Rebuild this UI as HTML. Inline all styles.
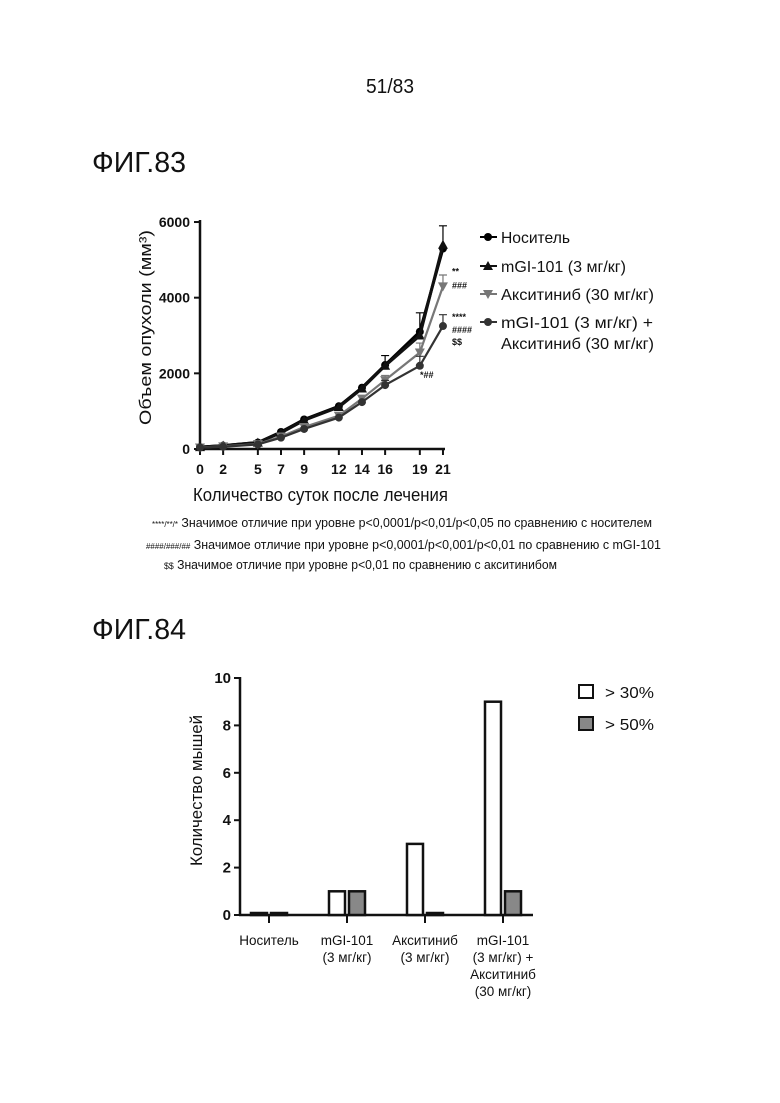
<!DOCTYPE html>
<html><head><meta charset="utf-8">
<style>
body{margin:0;background:#fff;width:780px;height:1103px;overflow:hidden}
svg{display:block}
text{font-family:"Liberation Sans Narrow","Liberation Sans",sans-serif;fill:#111}
</style></head>
<body>
<svg id="s" width="780" height="1103" xmlns="http://www.w3.org/2000/svg">
<text x="366" y="93" font-size="20" textLength="48" lengthAdjust="spacingAndGlyphs">51/83</text>
<text x="92" y="172" font-size="29" textLength="94" lengthAdjust="spacingAndGlyphs">ФИГ.83</text>
<text x="92" y="639" font-size="29" textLength="94" lengthAdjust="spacingAndGlyphs">ФИГ.84</text>
<text x="193" y="501" font-size="18" textLength="255" lengthAdjust="spacingAndGlyphs">Количество суток после лечения</text>
<text transform="translate(151,425) rotate(-90)" font-size="17" textLength="195" lengthAdjust="spacingAndGlyphs">Объем опухоли (мм³)</text>
<g font-size="12.5">
<text x="152" y="527" textLength="500" lengthAdjust="spacingAndGlyphs"><tspan font-size="8">****/**/*</tspan> Значимое отличие при уровне p&lt;0,0001/p&lt;0,01/p&lt;0,05 по сравнению с носителем</text>
<text x="146" y="549" textLength="515" lengthAdjust="spacingAndGlyphs"><tspan font-size="8">####/###/##</tspan> Значимое отличие при уровне p&lt;0,0001/p&lt;0,001/p&lt;0,01 по сравнению с mGI-101</text>
<text x="164" y="569" textLength="393" lengthAdjust="spacingAndGlyphs"><tspan font-size="9">$$</tspan> Значимое отличие при уровне p&lt;0,01 по сравнению с акситинибом</text>
</g>
<text transform="translate(202,866) rotate(-90)" font-size="17" textLength="151" lengthAdjust="spacingAndGlyphs">Количество мышей</text>
<g id="c1"></g><g id="c2"></g>
</svg>
<script>
const days=[0,2,5,7,9,12,14,16,19,21];
const vehicle=[50,90,170,450,780,1130,1620,2220,3100,5300];
const mgi=[50,90,170,430,760,1110,1600,2200,3000,5400];
const axit=[40,70,130,330,580,880,1330,1820,2550,4300];
const combo=[40,60,120,300,530,830,1240,1690,2200,3250];
const errs=[0,0,0,0,0,0,0,250,500,600];
const yTicks1=[0,2000,4000,6000];
const cats=["Носитель","mGI-101\n(3 мг/кг)","Акситиниб\n(3 мг/кг)","mGI-101\n(3 мг/кг) +\nАкситиниб\n(30 мг/кг)"];
const over30=[0,1,3,9];
const over50=[0,1,0,1];
const yTicks2=[0,2,4,6,8,10];
const NS="http://www.w3.org/2000/svg";
function mk(p,t,a){const e=document.createElementNS(NS,t);for(const k in a)e.setAttribute(k,a[k]);p.appendChild(e);return e;}
const c1=document.getElementById('c1');
const X=d=>200+d*11.57, Y=v=>449-v*0.03783;
let ax=mk(c1,'line',{x1:200,y1:220,x2:200,y2:449,stroke:'#111','stroke-width':2.5});

ax=mk(c1,'line',{x1:198,y1:449,x2:445,y2:449,stroke:'#111','stroke-width':2.5});

yTicks1.forEach(v=>{let l=mk(c1,'line',{x1:194,y1:Y(v),x2:200,y2:Y(v),stroke:'#111','stroke-width':2});

let t=mk(c1,'text',{x:190,y:Y(v)+5,'font-size':14,'font-weight':'bold','text-anchor':'end'});t.textContent=v;
});
days.forEach(d=>{let l=mk(c1,'line',{x1:X(d),y1:449,x2:X(d),y2:455,stroke:'#111','stroke-width':2});

let t=mk(c1,'text',{x:X(d),y:474,'font-size':14,'font-weight':'bold','text-anchor':'middle'});t.textContent=d;
});
const series=[[vehicle,'#000','circle','series-vehicle'],[mgi,'#111','tri','series-mgi101'],[axit,'#777','tri-down','series-axitinib'],[combo,'#333','circle','series-combo']];
function marker(g,x,y,col,shape){
 if(shape=='circle')return mk(g,'circle',{cx:x,cy:y,r:4,fill:col});
 if(shape=='tri')return mk(g,'polygon',{points:`${x},${y-5} ${x-5},${y+4} ${x+5},${y+4}`,fill:col});
 return mk(g,'polygon',{points:`${x},${y+5} ${x-5},${y-4} ${x+5},${y-4}`,fill:col});}
series.forEach(([vals,col,shape,name],si)=>{
 const g=mk(c1,'g',{});
 const p=mk(g,'polyline',{points:days.map((d,i)=>X(d)+','+Y(vals[i])).join(' '),fill:'none',stroke:col,'stroke-width':si<2?3:2.2});
 
 days.forEach((d,i)=>{ if(errs[i]&&si!=1){let e=mk(g,'path',{d:`M${X(d)},${Y(vals[i])}V${Y(vals[i]+errs[i]*(si==0?1:0.5))}m-4,0h8`,stroke:col,'stroke-width':1.2,fill:'none'});
  }
  const m=marker(g,X(d),Y(vals[i]),col,shape);});
});
[[452,Y(4300)-12,'**'],[452,Y(4300)+2,'###'],[452,Y(3250)-6,'****'],[452,Y(3250)+7,'####'],[452,Y(3250)+19,'$$'],[420,Y(2200)+12,'*##']].forEach(([x,y,s])=>{
 let t=mk(c1,'text',{x:x,y:y,'font-size':9,'font-weight':'bold'});t.textContent=s;});
const leg=[['Носитель','#000','circle',237,69],['mGI-101 (3 мг/кг)','#111','tri',266,125],['Акситиниб (30 мг/кг)','#777','tri-down',294,153],['mGI-101 (3 мг/кг) +','#333','circle',322,152]];
leg.forEach(([lab,col,shape,y,w])=>{const g=mk(c1,'g',{});
 mk(g,'line',{x1:480,y1:y,x2:497,y2:y,stroke:col,'stroke-width':2});marker(g,488,y,col,shape);
 let t=mk(g,'text',{x:501,y:y+6,'font-size':16,textLength:w,lengthAdjust:'spacingAndGlyphs'});t.textContent=lab;});
let t2=mk(c1,'text',{x:501,y:349,'font-size':16,textLength:153,lengthAdjust:'spacingAndGlyphs'});t2.textContent='Акситиниб (30 мг/кг)';

const c2=document.getElementById('c2');
const Y2=v=>915-v*23.7, GX=i=>269+i*78;
ax=mk(c2,'line',{x1:240,y1:677,x2:240,y2:916,stroke:'#111','stroke-width':2.5});
ax=mk(c2,'line',{x1:239,y1:915,x2:533,y2:915,stroke:'#111','stroke-width':2.5});
yTicks2.forEach(v=>{let l=mk(c2,'line',{x1:234,y1:Y2(v),x2:240,y2:Y2(v),stroke:'#111','stroke-width':2});
 let t=mk(c2,'text',{x:231,y:Y2(v)+5,'font-size':15,'font-weight':'bold','text-anchor':'end'});t.textContent=v;});
cats.forEach((c,i)=>{let l=mk(c2,'line',{x1:GX(i),y1:915,x2:GX(i),y2:923,stroke:'#111','stroke-width':2});
 const t=mk(c2,'text',{x:GX(i),y:945,'font-size':13.5,'text-anchor':'middle'});
 c.split('\n').forEach((s,j)=>{const ts=mk(t,'tspan',{x:GX(i),dy:j?17:0});ts.textContent=s;});
 [[over30[i],'#fff',-18,'bar-over-30'],[over50[i],'#888',2,'bar-over-50']].forEach(([v,f,dx,n])=>{
  const h=Math.max(915-Y2(v),2);const b=mk(c2,'rect',{x:GX(i)+dx,y:915-h,width:16,height:h,fill:f,stroke:'#111','stroke-width':2.5});
  });});
[['> 30%','#fff',692],['> 50%','#888',724]].forEach(([lab,f,y])=>{const g=mk(c2,'g',{});
 mk(g,'rect',{x:579,y:y-7,width:14,height:13,fill:f,stroke:'#111','stroke-width':2});
 let t=mk(g,'text',{x:605,y:y+6,'font-size':16,textLength:49,lengthAdjust:'spacingAndGlyphs'});t.textContent=lab;});
</script>
</body></html>
